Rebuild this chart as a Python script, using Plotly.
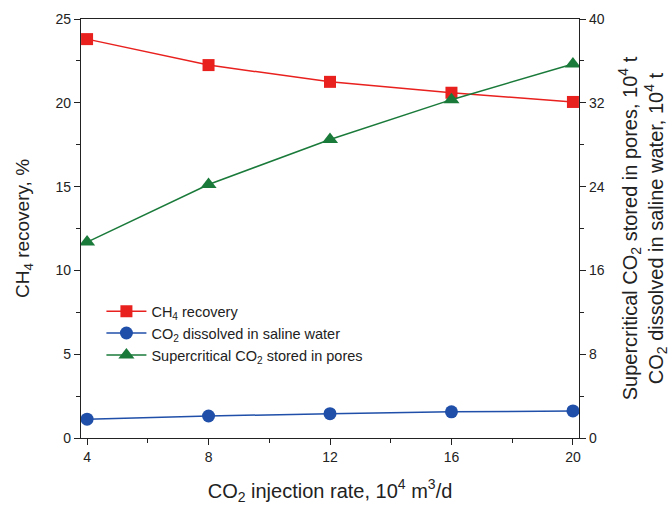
import plotly.graph_objects as go

# Injection rate (10^4 m3/d)
rate = [4, 8, 12, 16, 20]
# CH4 recovery (%) - left axis
ch4_recovery = [23.8, 22.25, 21.25, 20.6, 20.05]
# CO2 dissolved in saline water (10^4 t) - right axis
co2_dissolved = [1.8, 2.1, 2.32, 2.5, 2.58]
# Supercritical CO2 stored in pores (10^4 t) - right axis
co2_supercritical = [18.7, 24.2, 28.5, 32.3, 35.7]

RED = "#e8201e"
BLUE = "#1f4fa8"
GREEN = "#1a7a3a"
FONT = "Liberation Sans, Arial, sans-serif"

fig = go.Figure()
fig.add_trace(go.Scatter(
    x=rate, y=ch4_recovery, name="CH<sub>4</sub> recovery",
    mode="lines+markers", line=dict(color=RED, width=1.5),
    marker=dict(symbol="square", size=12, color=RED), yaxis="y"))
fig.add_trace(go.Scatter(
    x=rate, y=co2_dissolved, name="CO<sub>2</sub> dissolved in saline water",
    mode="lines+markers", line=dict(color=BLUE, width=1.5),
    marker=dict(symbol="circle", size=13, color=BLUE), yaxis="y2"))
fig.add_trace(go.Scatter(
    x=rate, y=co2_supercritical, name="Supercritical CO<sub>2</sub> stored in pores",
    mode="lines+markers", line=dict(color=GREEN, width=1.5),
    marker=dict(symbol="triangle-up", size=14, color=GREEN), yaxis="y2"))

tick_font = dict(family=FONT, size=14, color="#222")

fig.update_layout(
    width=670, height=505,
    margin=dict(l=81, r=91, t=19, b=67),
    plot_bgcolor="white", paper_bgcolor="white",
    showlegend=True,
    legend=dict(x=0.041, y=0.25, xanchor="left", yanchor="middle",
                font=dict(family=FONT, size=14.5, color="#222"),
                bgcolor="rgba(0,0,0,0)", tracegroupgap=0, itemwidth=40),
    xaxis=dict(
        range=[3.8, 20.2], tickvals=[4, 8, 12, 16, 20], automargin=False,
        ticks="outside", ticklen=6, tickcolor="#222",
        showline=True, linecolor="#222", linewidth=1.2, mirror=True,
        showgrid=False, zeroline=False, tickfont=tick_font,
        minor=dict(tickvals=[6, 10, 14, 18], ticks="outside", ticklen=4, tickcolor="#222"),
        title=dict(text="CO<sub>2</sub> injection rate, 10<sup>4</sup> m<sup>3</sup>/d",
                   font=dict(family=FONT, size=20, color="#222"), standoff=20)),
    yaxis=dict(
        range=[0, 25], tickvals=[0, 5, 10, 15, 20, 25], automargin=False,
        ticks="outside", ticklen=6, tickcolor="#222",
        showline=True, linecolor="#222", linewidth=1.2,
        showgrid=False, zeroline=False, tickfont=tick_font,
        minor=dict(tickvals=[2.5, 7.5, 12.5, 17.5, 22.5], ticks="outside", ticklen=4, tickcolor="#222"),
        title=dict(text="CH<sub>4</sub> recovery, %",
                   font=dict(family=FONT, size=19, color="#222"), standoff=20)),
    yaxis2=dict(
        overlaying="y", side="right", automargin=False,
        range=[0, 40], tickvals=[0, 8, 16, 24, 32, 40],
        ticks="outside", ticklen=6, tickcolor="#222",
        showline=True, linecolor="#222", linewidth=1.2,
        showgrid=False, zeroline=False, tickfont=tick_font,
        minor=dict(tickvals=[4, 12, 20, 28, 36], ticks="outside", ticklen=4, tickcolor="#222"),
        title=dict(text="Supercritical CO<sub>2</sub> stored in pores, 10<sup>4</sup> t<br>"
                        "CO<sub>2</sub> dissolved in saline water, 10<sup>4</sup> t",
                   font=dict(family=FONT, size=20, color="#222"), standoff=19)),
)

fig.write_html("out.html")
